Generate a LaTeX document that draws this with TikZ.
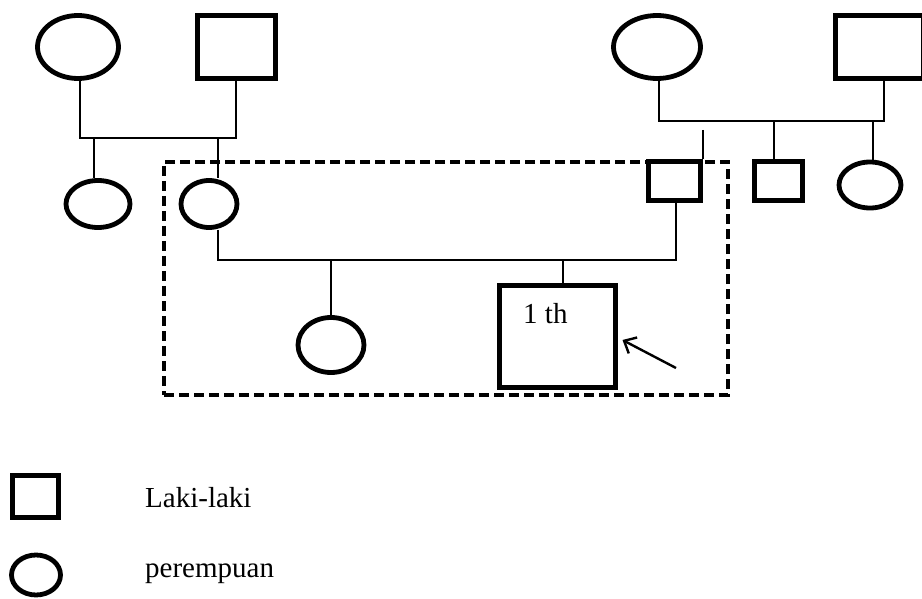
\documentclass[tikz,border=0pt]{standalone}
\usepackage{fontspec}
\setmainfont{Liberation Serif}
\usetikzlibrary{shapes.geometric,arrows.meta}
\begin{document}
\begin{tikzpicture}[x=1pt,y=-1pt,
  fem/.style={draw,ellipse,line width=4.8pt,inner sep=0pt,minimum width=#1},
  mal/.style={draw,rectangle,line width=5pt,inner sep=0pt},
  link/.style={line width=1.5pt},
  famline/.style={line width=1.5pt},
  lbl/.style={inner sep=0pt,anchor=base west,font=\fontsize{29}{34}\selectfont},
  frame/.style={line width=3.5pt,dash pattern=on 10pt off 5pt}
]
\useasboundingbox (0,0) rectangle (922,599);
% top-left family
\node[fem=81pt,minimum height=63pt] (A) at (78,47) {};
\node[mal,minimum width=78pt,minimum height=63pt] (B) at (236,47) {};
\node[fem=64pt,minimum height=47pt] (C) at (98,204) {};
\node[fem=56pt,minimum height=47pt] (D) at (209,204) {};
% top-right family
\node[fem=87pt,minimum height=63pt] (E) at (657,47) {};
\node[mal,minimum width=88pt,minimum height=63pt] (F) at (879,47) {};
\node[mal,minimum width=52pt,minimum height=39pt] (G) at (674,181) {};
\node[mal,minimum width=48pt,minimum height=39pt] (H) at (778,181) {};
\node[fem=62pt,minimum height=46pt] (I) at (870,185) {};
% children
\node[fem=66pt,minimum height=55pt] (J) at (331,345) {};
\node[mal,minimum width=116pt,minimum height=102pt] (K) at (557,336) {};
\node[lbl] (Kt) at (523,323) {1 th};
% coordinates
\coordinate (ab1) at (80,138);
\coordinate (ab2) at (236,138);
\coordinate (cd1) at (94,138);
\coordinate (cd2) at (218,138);
\coordinate (dg1) at (218,260);
\coordinate (dg2) at (676,260);
\coordinate (ef1) at (659,121);
\coordinate (ef2) at (884,121);
\coordinate (eh) at (774,121);
\coordinate (ei) at (873,121);
\coordinate (gtop) at (703,130);
\coordinate (jj) at (331,260);
\coordinate (kk) at (563,260);
% connectors top-left
\draw[famline] (A.south -| ab1) -- (ab1) -- (ab2) -- (B.south);
\draw[link] (cd1) -- (cd1 |- C.north);
\draw[link] (cd2) -- (cd2 |- D.north);
\draw[link] (cd2 |- D.south) -- (dg1) -- (dg2) -- (G.south -| dg2);
\draw[link] (jj) -- (J.north);
\draw[link] (kk) -- (kk |- K.north);
% connectors top-right
\draw[famline] (E.south -| ef1) -- (ef1) -- (ef2) -- (F.south -| ef2);
\draw[link] (eh) -- (eh |- H.north);
\draw[link] (ei) -- (ei |- I.north);
\draw[link] (gtop) -- (gtop |- G.north);
% frame
\node[frame,draw,rectangle,minimum width=564pt,minimum height=233pt,inner sep=0pt] (box) at (446,278.5) {};
% arrow
\coordinate (arrs) at (676,368);
\draw[line width=2.4pt,-{Straight Barb[length=10pt,width=18pt,line width=2.4pt]}] (arrs) -- ([xshift=5pt,yshift=1pt]K.east |- 0,341);
% legend
\node[mal,minimum width=46pt,minimum height=42pt] (L1) at (35,496) {};
\node[lbl] (L1t) at (145,507) {Laki-laki};
\node[fem=49pt,minimum height=40pt] (L2) at (36,575) {};
\node[lbl] (L2t) at (145,577) {perempuan};
\end{tikzpicture}
\end{document}
